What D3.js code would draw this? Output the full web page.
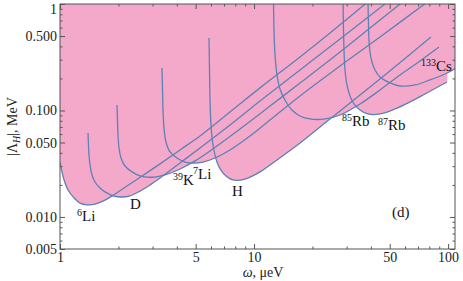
<!DOCTYPE html>
<html>
<head>
<meta charset="utf-8">
<script src="https://cdn.jsdelivr.net/npm/d3@7"></script>
<style>
  body { margin: 0; background: #fff; }
  svg { display: block; font-family: "Liberation Serif", "Times New Roman", serif; }
</style>
</head>
<body>
<svg width="463" height="281"></svg>
<script>
// curves: [omega (μeV), |Λ_H| (MeV)]
const li6 = [[1,0.0328],[1.024,0.0265],[1.049,0.0223],[1.1,0.0179],[1.181,0.0151],[1.268,0.0135],[1.377,0.013],[1.515,0.0132],[1.706,0.0144],[1.92,0.0164],[2.295,0.0204],[2.742,0.0253],[3.276,0.0315],[4.153,0.0426],[5.266,0.0576],[7.516,0.0968],[10.73,0.163],[17.25,0.318],[24.62,0.534],[39.57,1.09]];
const deut = [[1.394,0.0615],[1.402,0.0474],[1.411,0.0382],[1.428,0.0308],[1.462,0.0248],[1.515,0.0213],[1.607,0.0187],[1.706,0.0172],[1.876,0.0158],[2.087,0.0154],[2.295,0.0158],[2.584,0.0175],[2.91,0.02],[3.276,0.0232],[4.153,0.0321],[5.266,0.0445],[7.516,0.0731],[10.73,0.123],[17.25,0.24],[27.73,0.469],[50.17,1.09]];
const k39 = [[1.966,0.1126],[1.978,0.0814],[1.99,0.0589],[2.014,0.0445],[2.063,0.0358],[2.162,0.0301],[2.35,0.0265],[2.584,0.0243],[2.808,0.0237],[3.087,0.0237],[3.475,0.0248],[4.153,0.0282],[4.962,0.0336],[5.929,0.0417],[8.463,0.0671],[12.08,0.11],[17.25,0.181],[27.73,0.354],[44.56,0.708],[59.95,1.09]];
const li7 = [[3.355,0.2506],[3.375,0.1557],[3.395,0.1011],[3.435,0.0685],[3.517,0.0506],[3.689,0.0408],[4.008,0.0358],[4.408,0.0328],[4.847,0.0321],[5.456,0.0328],[6.292,0.0358],[7.516,0.0426],[9.528,0.0576],[12.82,0.0888],[17.25,0.137],[27.73,0.262],[44.56,0.49],[80.62,1.09]];
const hyd = [[5.859,0.479],[5.894,0.24],[5.929,0.1255],[6.0,0.0731],[6.144,0.0474],[6.442,0.0328],[6.917,0.0259],[7.788,0.0223],[8.981,0.0227],[10.73,0.0265],[13.13,0.0343],[17.25,0.0495],[21.87,0.07],[27.73,0.0989],[44.56,0.198],[81.58,0.49]];
const rb85 = [[12.59,1.09],[12.67,0.57],[12.82,0.332],[13.13,0.2154],[13.6,0.159],[14.43,0.1255],[15.68,0.1011],[17.25,0.0888],[19.42,0.0832],[23.21,0.0832],[27.73,0.0907],[35.14,0.1151],[44.56,0.1557],[56.49,0.2154],[71.61,0.292],[89.71,0.395]];
const rb87 = [[28.73,1.09],[28.9,0.57],[29.07,0.37],[29.42,0.24],[30.12,0.1736],[31.22,0.1368],[32.73,0.1151],[35.14,0.1011],[38.64,0.0927],[44.56,0.0927],[53.24,0.1033],[63.62,0.1202],[75.99,0.1429],[98.65,0.1852]];
const cs133 = [[38.64,1.09],[38.88,0.635],[39.1,0.459],[39.57,0.354],[40.53,0.285],[41.99,0.24],[44.56,0.2063],[50.17,0.1813],[56.49,0.1698],[67.48,0.1736],[80.62,0.1934],[96.34,0.2202],[112.4,0.256]];

const curves = [li6, deut, k39, li7, hyd, rb85, rb87, cs133];

// curve labels
const labelMass = ["6", "", "39", "7", "", "85", "87", "133"];
const labelSym = ["Li", "D", "K", "Li", "H", "Rb", "Rb", "Cs"];
const labelOmega = [1.224, 2.295, 3.822, 4.847, 7.697, 28.39, 43.51, 72.47];
const labelLambda = [0.00917, 0.0119, 0.02, 0.0227, 0.0158, 0.0715, 0.0656, 0.235];

// ticks
const xMajor = [1, 5, 10, 50, 100];
const xMinor = [2, 3, 4, 6, 7, 8, 9, 20, 30, 40, 60, 70, 80, 90];
const yMajor = [0.005, 0.01, 0.05, 0.1, 0.5, 1];
const yLabels = ["0.005", "0.010", "0.050", "0.100", "0.500", "1"];
const yMinor = [0.006, 0.007, 0.008, 0.009, 0.02, 0.03, 0.04, 0.06, 0.07, 0.08, 0.09, 0.2, 0.3, 0.4, 0.6, 0.7, 0.8, 0.9];

const svg = d3.select("svg");
const pLeft = 60, pRight = 455, pTop = 4, pBottom = 249;

const x = d3.scaleLog().domain([1, 108.5]).range([pLeft, pRight]);
const y = d3.scaleLog().domain([0.005, 1]).range([pBottom, pTop]);

const pink = "#f4a9cb";
const blue = "#5e81b5";

svg.append("clipPath").attr("id", "clip")
  .append("rect")
  .attr("x", pLeft).attr("y", pTop)
  .attr("width", pRight - pLeft).attr("height", pBottom - pTop);

const plot = svg.append("g").attr("clip-path", "url(#clip)");

const area = d3.area()
  .x(d => x(d[0]))
  .y0(y(2))
  .y1(d => y(d[1]))
  .curve(d3.curveCatmullRom.alpha(0.5));

const line = d3.line()
  .x(d => x(d[0]))
  .y(d => y(d[1]))
  .curve(d3.curveCatmullRom.alpha(0.5));

plot.selectAll("path.fill")
  .data(curves)
  .enter().append("path")
  .attr("class", "fill")
  .attr("d", area)
  .attr("fill", pink)
  .attr("stroke", pink)
  .attr("stroke-width", 0.5);

plot.selectAll("path.curve")
  .data(curves)
  .enter().append("path")
  .attr("class", "curve")
  .attr("d", line)
  .attr("fill", "none")
  .attr("stroke", blue)
  .attr("stroke-width", 1.3);

// axes, ticks inward like a framed plot
function styleAxis(g) {
  g.select(".domain").remove();
  g.selectAll("line").attr("stroke", "#555");
  g.selectAll("text").attr("fill", "#222")
    .style("font-family", "'Liberation Serif', serif")
    .style("font-size", "14px");
}

svg.append("g").attr("transform", `translate(0,${pBottom})`)
  .call(d3.axisBottom(x).tickValues(xMajor).tickFormat(d3.format("d")).tickSize(-5).tickPadding(3))
  .call(styleAxis);
svg.append("g").attr("transform", `translate(0,${pBottom})`)
  .call(d3.axisBottom(x).tickValues(xMinor).tickFormat("").tickSize(-2.5))
  .call(styleAxis);
svg.append("g").attr("transform", `translate(0,${pTop})`)
  .call(d3.axisTop(x).tickValues(xMajor).tickFormat("").tickSize(-5))
  .call(styleAxis);
svg.append("g").attr("transform", `translate(0,${pTop})`)
  .call(d3.axisTop(x).tickValues(xMinor).tickFormat("").tickSize(-2.5))
  .call(styleAxis);

const yAxisG = svg.append("g").attr("transform", `translate(${pLeft},0)`)
  .call(d3.axisLeft(y).tickValues(yMajor).tickFormat((d, i) => yLabels[i]).tickSize(-5).tickPadding(3))
  .call(styleAxis);
// the top label sits a little lower so it stays inside the page
yAxisG.selectAll(".tick text").filter(d => d === 1).attr("dy", "0.7em");
svg.append("g").attr("transform", `translate(${pLeft},0)`)
  .call(d3.axisLeft(y).tickValues(yMinor).tickFormat("").tickSize(-2.5))
  .call(styleAxis);
svg.append("g").attr("transform", `translate(${pRight},0)`)
  .call(d3.axisRight(y).tickValues(yMajor).tickFormat("").tickSize(-5))
  .call(styleAxis);
svg.append("g").attr("transform", `translate(${pRight},0)`)
  .call(d3.axisRight(y).tickValues(yMinor).tickFormat("").tickSize(-2.5))
  .call(styleAxis);

svg.append("rect")
  .attr("x", pLeft).attr("y", pTop)
  .attr("width", pRight - pLeft).attr("height", pBottom - pTop)
  .attr("fill", "none").attr("stroke", "#555").attr("stroke-width", 1);

// axis titles
const xt = svg.append("text")
  .attr("x", 263).attr("y", 277)
  .attr("text-anchor", "middle")
  .attr("font-size", 14).attr("fill", "#222");
xt.append("tspan").attr("font-style", "italic").text("ω");
xt.append("tspan").text(", μeV");

const yt = svg.append("text")
  .attr("transform", `translate(17,${(pTop + pBottom) / 2}) rotate(-90)`)
  .attr("text-anchor", "middle")
  .attr("font-size", 14).attr("fill", "#222");
yt.append("tspan").text("|Λ");
yt.append("tspan").attr("font-style", "italic").attr("font-size", 10).attr("dy", 3).text("H");
yt.append("tspan").attr("dy", -3).text("|, MeV");

// species labels
labelSym.forEach((s, i) => {
  const t = svg.append("text")
    .attr("x", x(labelOmega[i]))
    .attr("y", y(labelLambda[i]))
    .attr("font-size", 15).attr("fill", "#111");
  if (labelMass[i]) {
    t.append("tspan").attr("font-size", 10).attr("dy", -5).text(labelMass[i]);
    t.append("tspan").attr("dy", 5).text(s);
  } else {
    t.append("tspan").text(s);
  }
});

svg.append("text")
  .attr("x", x(51.37)).attr("y", y(0.0100))
  .attr("font-size", 15).attr("fill", "#111")
  .text("(d)");
</script>
</body>
</html>
